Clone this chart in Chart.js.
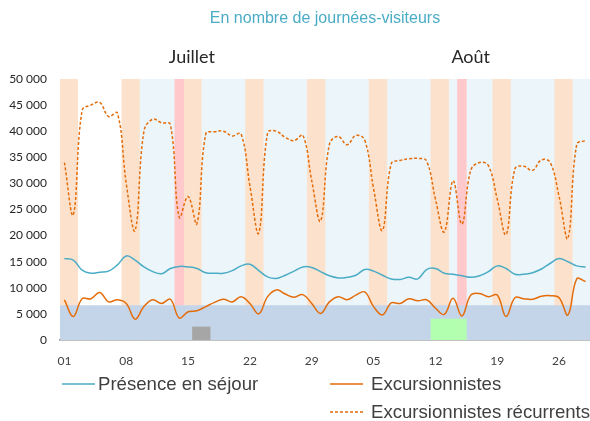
<!DOCTYPE html>
<html lang="fr">
<head>
<meta charset="utf-8">
<script src="https://cdn.jsdelivr.net/npm/chart.js@4.4.1/dist/chart.umd.min.js"></script>
<style>
  html, body { margin: 0; padding: 0; background: #fff; }
  #wrap { width: 590px; height: 421px; position: relative; }
</style>
</head>
<body>
<div id="wrap"><canvas id="chart"></canvas></div>
<script>
// jours affichés : du 1er juillet au 29 août
var dayLabels = [
  '01','02','03','04','05','06','07','08','09','10','11','12','13','14','15','16',
  '17','18','19','20','21','22','23','24','25','26','27','28','29','30','31',
  '01','02','03','04','05','06','07','08','09','10','11','12','13','14','15','16',
  '17','18','19','20','21','22','23','24','25','26','27','28','29'
];

var presence = [
  15600, 15300, 13400, 12800, 13000, 13200, 14400, 16100, 15300, 14000,
  13100, 12700, 13700, 14100, 14000, 13700, 12900, 12800, 12800, 13300,
  14200, 14500, 13300, 12100, 11800, 12400, 13200, 14000, 13900, 13100,
  12300, 11900, 12000, 12400, 13500, 13200, 12400, 11700, 11600, 12000,
  11700, 13500, 13700, 12800, 12600, 12300, 12000, 12300, 13100, 14200,
  13700, 12600, 12600, 12900, 13600, 14700, 15600, 15000, 14200, 14000
];

var excursionnistes = [
  7700, 4500, 7900, 7900, 9100, 7300, 7700, 7000, 4000, 6400,
  7700, 7000, 7800, 4200, 5400, 5600, 6400, 7200, 7800, 7300,
  8300, 7000, 5000, 8300, 9600, 8800, 8200, 8700, 7000, 5100,
  7300, 8300, 7700, 8600, 9200, 6400, 4800, 7100, 7000, 7900,
  7500, 7700, 6100, 4900, 8000, 4600, 8600, 8900, 8300, 8600,
  4500, 8100, 7900, 7800, 8400, 8500, 8100, 4800, 11700, 11200
];

var recurrents = [
  34000, 24000, 44000, 45000, 45500, 42800, 43500, 30000, 21000, 40000,
  42300, 41600, 41300, 23500, 27500, 22300, 39500, 39900, 40000, 39100,
  39500, 29500, 20500, 39700, 40000, 38800, 38200, 39200, 30500, 22800,
  37500, 39000, 37400, 39200, 38300, 29000, 21000, 33800, 34400, 34700,
  34800, 34300, 27000, 20700, 30500, 22200, 32500, 34000, 33400, 27000,
  20200, 32800, 33300, 32500, 34500, 34000, 27500, 19500, 37500, 38200
];

// fonds : week-ends, jours fériés, vacances, seuil bas et repères
var weekendDays = [1, 2, 8, 9, 15, 16, 22, 23, 29, 30, 36, 37, 43, 44, 50, 51, 57, 58];
var holidayDays = [14, 46];
var vacationFirstDay = 10;
var bandTop = 50000;
var lowBand = 6600;
var grayDays = [16, 17];
var grayValue = 2500;
var greenDays = [43, 44, 45, 46];
var greenValue = 4000;

var months = ['Juillet', 'Août'];
var monthFirstIndex = [0, 31];
var monthLength = [31, 31];

var yTicks = [0, 5000, 10000, 15000, 20000, 25000, 30000, 35000, 40000, 45000, 50000];

function dayBars(days, value) {
  return dayLabels.map(function(l, i) {
    return days.indexOf(i + 1) >= 0 ? value : null;
  });
}

var vacationBars = dayLabels.map(function(l, i) {
  return (i + 1) >= vacationFirstDay ? bandTop : null;
});
var lowBars = dayLabels.map(function() { return lowBand; });

function barSet(data, color, order) {
  return {
    type: 'bar', data: data, backgroundColor: color, borderWidth: 0,
    grouped: false, barPercentage: 1, categoryPercentage: 1, order: order
  };
}

var fmt = function(v) {
  return String(v).replace(/\B(?=(\d{3})+(?!\d))/g, ' ');
};

// titre, mois et légende dessinés à la main
var decor = {
  id: 'decor',
  afterDraw: function(chart) {
    var ctx = chart.ctx;
    var area = chart.chartArea;
    var x = chart.scales.x;
    ctx.save();
    ctx.textBaseline = 'middle';
    ctx.textAlign = 'center';
    ctx.fillStyle = '#4bacc6';
    ctx.font = '16px "Liberation Sans", Arial, sans-serif';
    ctx.fillText('En nombre de journées-visiteurs', (area.left + area.right) / 2, 19);

    ctx.fillStyle = '#262626';
    ctx.font = '18px Lato, sans-serif';
    for (var i = 0; i < months.length; i++) {
      var mid = monthFirstIndex[i] + (monthLength[i] - 1) / 2;
      ctx.fillText(months[i], x.getPixelForValue(mid) - (i === 0 ? 5 : 0), 57);
    }

    var items = [
      { ds: 2, x: 62, y: 385 },
      { ds: 1, x: 330, y: 385 },
      { ds: 0, x: 330, y: 413 }
    ];
    ctx.textAlign = 'left';
    ctx.font = '18.6px "Liberation Sans", Arial, sans-serif';
    items.forEach(function(it) {
      var d = chart.data.datasets[it.ds];
      ctx.strokeStyle = d.borderColor;
      ctx.lineWidth = 1.5;
      ctx.setLineDash(d.borderDash || []);
      ctx.beginPath();
      ctx.moveTo(it.x, it.y - 1);
      ctx.lineTo(it.x + 33, it.y - 1);
      ctx.stroke();
      ctx.setLineDash([]);
      ctx.fillStyle = '#404040';
      ctx.fillText(d.label, it.x + (it.ds === 2 ? 36 : 41), it.y);
    });
    ctx.restore();
  }
};

new Chart(document.getElementById('chart'), {
  type: 'line',
  data: {
    labels: dayLabels,
    datasets: [
      {
        label: 'Excursionnistes récurrents', data: recurrents,
        borderColor: '#e46c0a', borderWidth: 1.5, borderDash: [3, 2],
        pointRadius: 0, tension: 0.4, fill: false, order: 0
      },
      {
        label: 'Excursionnistes', data: excursionnistes,
        borderColor: '#e46c0a', borderWidth: 1.5,
        pointRadius: 0, tension: 0.4, fill: false, order: 1
      },
      {
        label: 'Présence en séjour', data: presence,
        borderColor: '#4bacc6', borderWidth: 1.5,
        pointRadius: 0, tension: 0.4, fill: false, order: 2
      },
      barSet(dayBars(grayDays, grayValue), '#a6a6a6', 3),
      barSet(dayBars(greenDays, greenValue), '#b3ffb0', 3),
      barSet(lowBars, '#c5d5e9', 4),
      barSet(dayBars(holidayDays, bandTop), '#ffc8cb', 5),
      barSet(dayBars(weekendDays, bandTop), '#fce2cc', 5),
      barSet(vacationBars, '#ecf5f9', 6)
    ]
  },
  options: {
    responsive: true,
    maintainAspectRatio: false,
    animation: false,
    layout: { padding: { top: 79, left: 0, right: 0, bottom: 0 } },
    plugins: { legend: { display: false }, tooltip: { enabled: false }, title: { display: false } },
    scales: {
      x: {
        offset: true,
        grid: { display: true, drawOnChartArea: false, drawTicks: true, tickLength: 10, color: 'rgba(0,0,0,0)' },
        border: { display: true, color: '#868686', width: 1.5 },
        ticks: {
          autoSkip: false, maxRotation: 0, padding: 4,
          color: '#404040', font: { family: 'Lato', size: 12 },
          callback: function(v, i) { return i % 7 === 0 ? dayLabels[i] : ''; }
        },
        afterFit: function(s) { s.height = 81; }
      },
      y: {
        min: 0, max: 50000,
        afterBuildTicks: function(s) { s.ticks = yTicks.map(function(v) { return { value: v }; }); },
        grid: { display: false, drawTicks: false },
        border: { display: false },
        ticks: {
          padding: 13, color: '#262626', font: { family: 'Lato', size: 12 },
          callback: function(v) { return fmt(v); }
        },
        afterFit: function(s) { s.width = 60; }
      }
    }
  },
  plugins: [decor]
});
</script>
</body>
</html>
